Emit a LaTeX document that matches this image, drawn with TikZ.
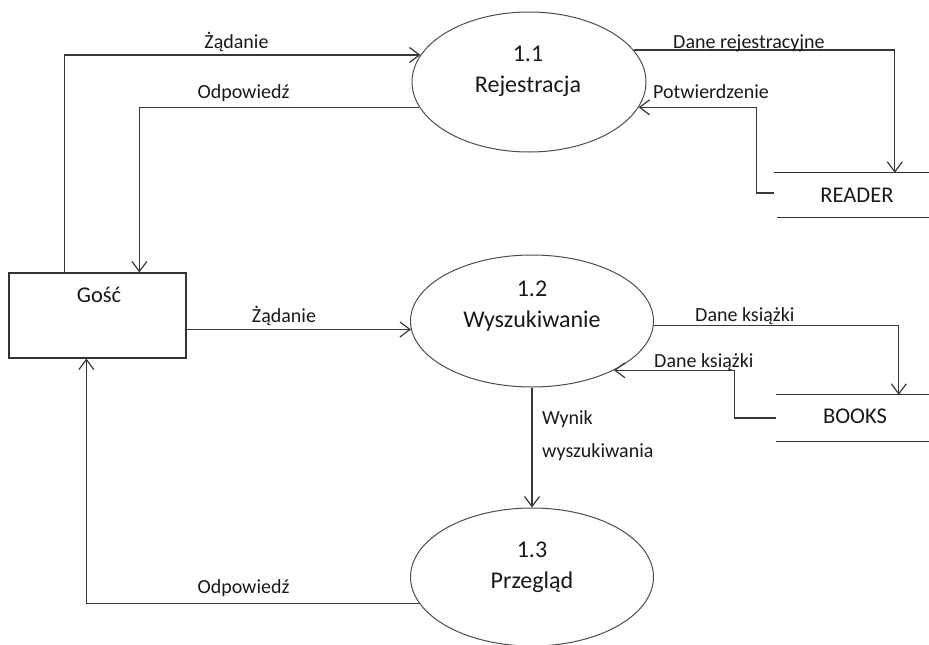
\documentclass[tikz,border=0pt]{standalone}
\usepackage{fontspec}
\setmainfont{Carlito}
\usetikzlibrary{arrows.meta,shapes.geometric}
\begin{document}
\begin{tikzpicture}[x=1pt,y=-1pt,
  txt/.style={font=\fontsize{20}{24}\selectfont, text=black!90, inner sep=0pt},
  proctxt/.style={txt, font=\fontsize{24}{28}\selectfont},
  boxtxt/.style={txt, font=\fontsize{22.5}{26}\selectfont},
  proc/.style={draw=black!70, line width=1pt, ellipse, inner sep=0pt},
  entity/.style={draw=black!80, line width=1.2pt, inner sep=0pt},
  storebox/.style={inner sep=0pt},
  storeline/.style={draw=black!80, line width=1.2pt},
  flow/.style={draw=black!78, line width=1.2pt,
    -{Straight Barb[length=10pt,width=15pt,line width=1.2pt]}}
]
\useasboundingbox (0,0) rectangle (929,645);

% processes
\node[proc, minimum width=234pt, minimum height=140pt] (p11) at (529,82) {};
\node[proc, minimum width=243pt, minimum height=132pt] (p12) at (532,321) {};
\node[proc, minimum width=243pt, minimum height=138pt] (p13) at (532,577) {};

\node[proctxt, anchor=base] (p11num)  at (528,61) {1.1};
\node[proctxt, anchor=base] (p11name) at (528,92) {Rejestracja};
\node[proctxt, anchor=base] (p12num)  at (532,296) {1.2};
\node[proctxt, anchor=base] (p12name) at (532,327) {Wyszukiwanie};
\node[proctxt, anchor=base] (p13num)  at (532,557) {1.3};
\node[proctxt, anchor=base] (p13name) at (532,588) {Przegląd};

% external entity
\node[entity, minimum width=177pt, minimum height=85pt] (guest) at (97.5,315.5) {};
\node[boxtxt, anchor=base] (guestname) at (99,302) {Gość};

% data stores
\node[storebox, minimum width=155pt, minimum height=44pt] (reader) at (851.5,195) {};
\draw[storeline] (reader.north west) -- (reader.north east);
\draw[storeline] ([xshift=3pt]reader.south west) -- (reader.south east);
\node[boxtxt, anchor=base] (readername) at (857,202) {READER};

\node[storebox, minimum width=153pt, minimum height=46pt] (books) at (852.5,418) {};
\draw[storeline] (books.north west) -- (books.north east);
\draw[storeline] (books.south west) -- (books.south east);
\node[boxtxt, anchor=base] (booksname) at (855,423) {BOOKS};

% data flows
\draw[flow] ([xshift=56pt]guest.north west) |- (p11.166);
\draw[flow] (p11.193) -| ([xshift=131pt]guest.north west);
\draw[flow] (p11.17) -| ([xshift=121pt]reader.north west);
\draw[flow] ([yshift=2pt]reader.west) -- ++(-17,0) |- (p11.347);
\draw[flow] (guest.east |- p12.184) -- (p12.184);
\draw[flow] (p12.358) -| ([xshift=123pt]books.north west);
\draw[flow] (books.west) -- ++(-41,0) |- (p12.329);
\draw[flow] (p12.south) -- (p13.north);
\draw[flow] (p13.193) -| ([xshift=78pt]guest.south west);

% flow labels
\node[txt, anchor=base] (f1) at (236.5,48) {Żądanie};
\node[txt, anchor=base] (f2) at (243.5,98) {Odpowiedź};
\node[txt, anchor=base west] (f3) at (673,48) {Dane rejestracyjne};
\node[txt, anchor=base west] (f4) at (653,98) {Potwierdzenie};
\node[txt, anchor=base] (f5) at (284,322) {Żądanie};
\node[txt, anchor=base west] (f6) at (695,321) {Dane książki};
\node[txt, anchor=base west] (f7) at (654,367) {Dane książki};
\node[txt, anchor=base west] (f8a) at (542,424) {Wynik};
\node[txt, anchor=base west] (f8b) at (542,457) {wyszukiwania};
\node[txt, anchor=base] (f9) at (243.5,593) {Odpowiedź};
\end{tikzpicture}
\end{document}
